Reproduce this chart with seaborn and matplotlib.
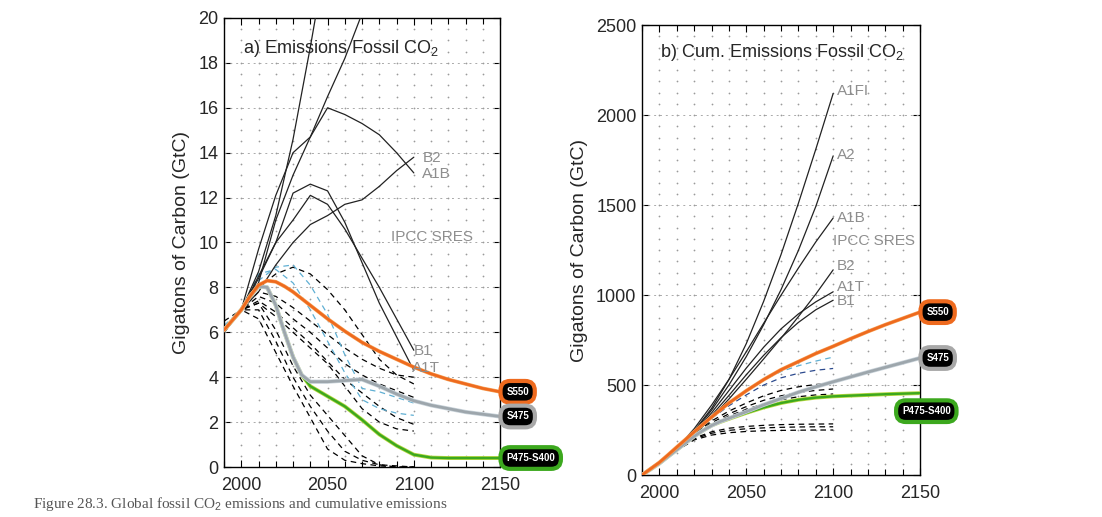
import numpy as np
import matplotlib
matplotlib.use("Agg")
import matplotlib.pyplot as plt
from matplotlib.ticker import MultipleLocator, FixedLocator
import seaborn as sns

# ---------------- data ----------------
sres_years = [1990, 2000, 2010, 2020, 2030, 2040, 2050, 2060, 2070, 2080, 2090, 2100]

# panel a: annual fossil emissions (GtC/yr)
a1fi_emis = [6.0, 7.0, 8.7, 11.2, 14.6, 18.7, 23.1, 25.9, 27.9, 29.8, 30.5, 30.3]
a2_emis = [6.0, 7.0, 8.2, 11.0, 13.0, 14.7, 16.5, 18.2, 20.2, 22.5, 25.6, 28.9]
a1b_emis = [6.0, 7.0, 9.7, 12.1, 14.0, 14.7, 16.0, 15.7, 15.3, 14.8, 14.0, 13.1]
b2_emis = [6.0, 7.0, 7.8, 9.0, 10.0, 10.8, 11.2, 11.7, 11.9, 12.5, 13.2, 13.8]
a1t_emis = [6.0, 7.0, 8.4, 10.0, 12.2, 12.6, 12.3, 10.9, 9.1, 7.3, 5.8, 4.3]
b1_emis = [6.0, 7.0, 8.5, 10.0, 11.0, 12.1, 11.7, 10.6, 9.3, 8.0, 6.6, 5.2]

stab_years = [1990, 2000, 2005, 2010, 2015, 2020, 2025, 2030, 2035, 2040, 2050,
              2060, 2070, 2080, 2090, 2100, 2110, 2120, 2130, 2140, 2150]
s550_emis = [6.1, 7.0, 7.6, 8.1, 8.3, 8.25, 8.05, 7.8, 7.5, 7.2, 6.6,
             6.05, 5.55, 5.15, 4.8, 4.45, 4.15, 3.9, 3.7, 3.5, 3.35]
s475_emis = [6.1, 7.0, 7.6, 8.05, 8.0, 7.2, 6.0, 4.9, 4.1, 3.8, 3.8,
             3.85, 3.9, 3.6, 3.25, 2.95, 2.75, 2.6, 2.45, 2.35, 2.25]
p475_emis = [6.1, 7.0, 7.6, 8.05, 8.0, 7.2, 6.0, 4.9, 4.1, 3.6, 3.15,
             2.7, 2.1, 1.45, 0.95, 0.55, 0.42, 0.4, 0.4, 0.4, 0.4]

# other model pathways (dashed), panel a
dash_emis_1 = [6.1, 7.0, 8.3, 8.9, 9.0, 8.1, 6.8, 5.0, 3.5, 3.35, 3.1, 2.85]
dash_emis_2 = [6.2, 7.0, 8.0, 8.6, 8.9, 8.6, 7.9, 7.0, 5.9, 4.8, 4.1, 3.7]
dash_emis_3 = [6.5, 7.0, 7.8, 7.6, 7.1, 6.5, 5.9, 5.3, 4.8, 4.4, 4.1, 4.0]
dash_emis_4 = [6.1, 7.0, 7.6, 7.3, 6.6, 6.0, 5.3, 4.6, 4.1, 3.7, 3.4, 3.1]
dash_emis_5 = [6.1, 7.0, 7.4, 6.9, 6.2, 5.5, 4.7, 3.9, 3.3, 2.7, 2.2, 1.9]
dash_emis_6 = [6.1, 7.0, 7.3, 6.7, 6.0, 5.3, 4.6, 3.6, 2.6, 2.0, 1.7, 1.6]
dash_emis_7 = [6.1, 7.0, 7.3, 6.1, 4.5, 3.2, 2.3, 1.4, 0.5, 0.1, 0.0, 0.0]
dash_emis_8 = [6.1, 7.0, 6.6, 5.1, 3.6, 2.2, 0.8, 0.3, 0.15, 0.05, 0.0, 0.0]
dash_emis_9 = [6.1, 7.0, 7.0, 5.6, 4.0, 2.7, 1.6, 0.7, 0.3, 0.1, 0.05, 0.0]
dash_emis_10 = [6.3, 7.0, 8.6, 8.8, 8.2, 7.0, 5.6, 4.2, 3.0, 2.6, 2.4, 2.3]

# panel b: cumulative emissions (GtC)
a1fi_cum = [0, 65, 145, 245, 370, 530, 730, 965, 1225, 1510, 1810, 2120]
a2_cum = [0, 65, 142, 240, 360, 500, 658, 835, 1030, 1248, 1492, 1773]
a1b_cum = [0, 65, 148, 257, 388, 531, 685, 843, 999, 1150, 1295, 1428]
b2_cum = [0, 65, 139, 223, 318, 422, 532, 645, 760, 880, 1005, 1140]
a1t_cum = [0, 65, 142, 233, 345, 469, 594, 710, 812, 895, 962, 1018]
b1_cum = [0, 64, 140, 228, 330, 442, 557, 665, 763, 848, 918, 971]

s550_cum = [0, 70, 112, 155, 197, 240, 281, 322, 361, 400, 468,
            530, 585, 630, 675, 715, 757, 797, 835, 870, 905]
s475_cum = [0, 65, 103, 140, 178, 215, 247, 275, 297, 315, 352,
            390, 425, 460, 490, 518, 545, 572, 598, 624, 650]
p475_cum = [0, 65, 103, 140, 178, 215, 247, 275, 295, 312, 345,
            375, 400, 418, 430, 437, 441, 445, 449, 452, 455]

dash_cum_1 = [0, 65, 150, 240, 325, 400, 470, 528, 575, 607, 633, 655]
dash_cum_2 = [0, 65, 148, 235, 315, 385, 445, 500, 540, 565, 582, 592]
dash_cum_3 = [0, 65, 145, 230, 300, 355, 400, 440, 470, 490, 503, 510]
dash_cum_4 = [0, 65, 143, 225, 290, 340, 380, 415, 440, 458, 470, 478]
dash_cum_5 = [0, 65, 142, 220, 280, 328, 365, 395, 418, 435, 445, 450]
dash_cum_6 = [0, 64, 140, 205, 240, 260, 270, 276, 280, 282, 283, 284]
dash_cum_7 = [0, 64, 138, 200, 232, 248, 257, 262, 265, 267, 268, 268]
dash_cum_8 = [0, 64, 136, 195, 222, 235, 242, 246, 248, 249, 250, 250]

sres_names_a = ["B2", "A1B", "IPCC SRES", "B1", "A1T"]
sres_names_b = ["A1FI", "A2", "A1B", "IPCC SRES", "B2", "A1T", "B1"]
stab_names = ["S550", "S475", "P475-S400"]

# ---------------- style ----------------
sns.set_theme(style="white")
plt.rcParams['font.family'] = ['Liberation Sans', 'DejaVu Sans']
plt.rcParams['mathtext.fontset'] = 'custom'
plt.rcParams['mathtext.rm'] = 'Liberation Sans'
plt.rcParams['mathtext.it'] = 'Liberation Sans:italic'
plt.rcParams['mathtext.bf'] = 'Liberation Sans:bold'

ORANGE = '#EE6A1E'
GRAY = '#9DA6AC'
GREEN = '#3CA81E'
LBLUE = '#5FAFD3'
DBLUE = '#2C4A8E'
LABEL_GRAY = '#8E8E8E'

fig = plt.figure(figsize=(11.02, 5.17), dpi=100)
fig.patch.set_facecolor('white')
ax1 = fig.add_axes([0.2033, 0.0967, 0.2505, 0.8685])
ax2 = fig.add_axes([0.5826, 0.0812, 0.2523, 0.8704])


def line(ax, x, y, color, lw, ls='-', z=3):
    sns.lineplot(x=x, y=y, ax=ax, color=color, linewidth=lw, linestyle=ls,
                 zorder=z, legend=False, sort=False)


def frame(ax, ymax, ymajor, yminor):
    ax.set_xlim(1990, 2150)
    ax.set_ylim(0, ymax)
    ax.xaxis.set_major_locator(FixedLocator([2000, 2050, 2100, 2150]))
    ax.xaxis.set_minor_locator(MultipleLocator(10))
    ax.yaxis.set_major_locator(MultipleLocator(ymajor))
    ax.tick_params(axis='both', which='both', direction='in', top=True, right=True,
                   bottom=True, left=True, color='black')
    ax.tick_params(axis='both', which='major', length=5, width=0.8, labelsize=13, pad=7)
    ax.tick_params(axis='x', which='minor', length=4, width=0.8)
    ax.tick_params(axis='y', which='major', pad=4)
    for s in ax.spines.values():
        s.set_color('black')
        s.set_linewidth(1.0)
    ax.grid(False)
    # dotted background grid
    gx, gy = np.meshgrid(np.arange(2000, 2150, 10), np.arange(yminor, ymax, yminor))
    ax.scatter(gx.ravel(), gy.ravel(), s=1.6, color='#9a9a9a', linewidths=0, zorder=1)
    for yv in np.arange(ymajor, ymax, ymajor):
        ax.axhline(yv, color='#aaaaaa', lw=0.7, ls=(0, (2, 4)), zorder=1)
    ax.set_ylabel('Gigatons of Carbon (GtC)', fontsize=14, labelpad=6)
    ax.set_xlabel('')


frame(ax1, 20, 2, 0.5)
frame(ax2, 2500, 500, 62.5)

# ---------------- panel a ----------------
for d, c in [(dash_emis_2, 'black'), (dash_emis_3, 'black'), (dash_emis_4, 'black'),
             (dash_emis_5, 'black'), (dash_emis_6, 'black'), (dash_emis_7, 'black'),
             (dash_emis_8, 'black'), (dash_emis_9, 'black'), (dash_emis_10, LBLUE),
             (dash_emis_1, LBLUE)]:
    line(ax1, sres_years, d, c, 0.9, (0, (4.5, 3.5)), 2)

for s in [a1fi_emis, a2_emis, a1b_emis, b2_emis, a1t_emis, b1_emis]:
    line(ax1, sres_years, s, '#222222', 0.9, '-', 3)

line(ax1, stab_years, p475_emis, '#B9D840', 2.8, '-', 4)
line(ax1, stab_years, p475_emis, GREEN, 1.7, '-', 4)
line(ax1, stab_years, s475_emis, '#C9D3DA', 3.0, '-', 5)
line(ax1, stab_years, s475_emis, GRAY, 2.0, '-', 5)
line(ax1, stab_years, s550_emis, '#F6A35A', 2.7, '-', 6)
line(ax1, stab_years, s550_emis, ORANGE, 1.9, '-', 6)

ax1.text(0.07, 0.933, 'a) Emissions Fossil CO$_2$', transform=ax1.transAxes,
         fontsize=13, va='center', ha='left', zorder=7)
lab_a = [(2105, 13.75), (2105, 13.05), (2087, 10.25), (2100, 5.15), (2099, 4.4)]
for name, (xx, yy) in zip(sres_names_a, lab_a):
    ax1.text(xx, yy, name, color=LABEL_GRAY, fontsize=11, va='center', ha='left', zorder=7)

# ---------------- panel b ----------------
for d, c in [(dash_cum_3, 'black'), (dash_cum_4, 'black'), (dash_cum_5, 'black'),
             (dash_cum_6, 'black'), (dash_cum_7, 'black'), (dash_cum_8, 'black'),
             (dash_cum_2, DBLUE), (dash_cum_1, LBLUE)]:
    line(ax2, sres_years, d, c, 0.9, (0, (4.5, 3.5)), 2)

for s in [a1fi_cum, a2_cum, a1b_cum, b2_cum, a1t_cum, b1_cum]:
    line(ax2, sres_years, s, '#222222', 0.9, '-', 3)

line(ax2, stab_years, p475_cum, '#B9D840', 2.8, '-', 4)
line(ax2, stab_years, p475_cum, GREEN, 1.7, '-', 4)
line(ax2, stab_years, s475_cum, '#C9D3DA', 3.0, '-', 5)
line(ax2, stab_years, s475_cum, GRAY, 2.0, '-', 5)
line(ax2, stab_years, s550_cum, '#F6A35A', 2.7, '-', 6)
line(ax2, stab_years, s550_cum, ORANGE, 1.9, '-', 6)

ax2.text(0.065, 0.938, 'b) Cum. Emissions Fossil CO$_2$', transform=ax2.transAxes,
         fontsize=13, va='center', ha='left', zorder=7)
lab_b = [(2102, 2135), (2102, 1780), (2102, 1430), (2100, 1300), (2102, 1160),
         (2102, 1045), (2102, 965)]
for name, (xx, yy) in zip(sres_names_b, lab_b):
    ax2.text(xx, yy, name, color=LABEL_GRAY, fontsize=11, va='center', ha='left', zorder=7)

# ---------------- end badges ----------------
def badge(ax, name, yval, edge, dx, dy, ha):
    ax.annotate(name, xy=(2150, yval), xytext=(dx, dy), textcoords='offset points',
                ha=ha, va='center', color='white', fontsize=7, fontweight='bold',
                annotation_clip=False, zorder=10,
                bbox=dict(boxstyle='round,pad=0.6,rounding_size=1.0', fc='black',
                          ec=edge, lw=3))

for ax, s550, s475, p475, pdx, pdy, pha in [
        (ax1, s550_emis, s475_emis, p475_emis, 4.5, 0, 'left'),
        (ax2, s550_cum, s475_cum, p475_cum, 4.5, -13, 'center')]:
    badge(ax, stab_names[0], s550[-1], ORANGE, 4.5, 0, 'left')
    badge(ax, stab_names[1], s475[-1], '#A8A8A8', 4.5, 0, 'left')
    badge(ax, stab_names[2], p475[-1], GREEN, pdx, pdy, pha)

# caption at the foot of the page
fig.text(0.03, 0.042, 'Figure 28.3. Global fossil CO$_2$ emissions and cumulative emissions',
         fontsize=11, color='#555555', ha='left', va='top',
         family=['Liberation Serif', 'DejaVu Serif'])

fig.savefig('out.png', dpi=100, facecolor='white')
